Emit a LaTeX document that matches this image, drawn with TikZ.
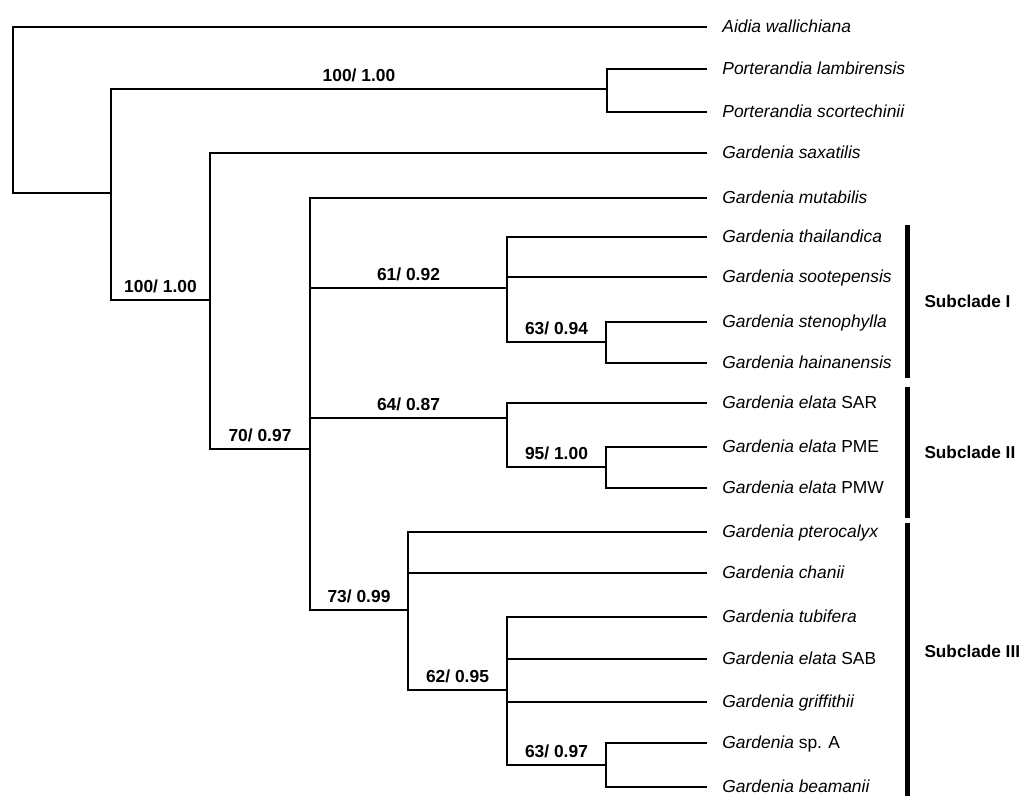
\documentclass[tikz,border=0pt]{standalone}
\usepackage{fontspec}
\setmainfont{Liberation Sans}
\usetikzlibrary{calc}

\begin{document}
\begin{tikzpicture}[x=0.5pt,y=-0.5pt,
    tree/.style={line width=0.6pt},
    taxon/.style={anchor=west,inner xsep=7.5pt,inner ysep=0pt,text height=1ex,text depth=0pt,
        font=\fontsize{8.7}{10}\selectfont\itshape},
    supp/.style={above,inner sep=3.5pt,font=\fontsize{8.7}{10}\selectfont\bfseries},
    cladebar/.style={line width=2.5pt},
    cladename/.style={anchor=west,inner sep=0pt,xshift=7.5pt,font=\fontsize{8.6}{10}\selectfont\bfseries}]
    \useasboundingbox (0,0) rectangle (1023,796);
    % taxa
    \node[taxon] (aw)  at (707,27)  {Aidia wallichiana};
    \node[taxon] (pl)  at (707,69)  {Porterandia lambirensis};
    \node[taxon] (ps)  at (707,112) {Porterandia scortechinii};
    \node[taxon] (gsa) at (707,153) {Gardenia saxatilis};
    \node[taxon] (gmu) at (707,198) {Gardenia mutabilis};
    \node[taxon] (gth) at (707,237) {Gardenia thailandica};
    \node[taxon] (gso) at (707,277) {Gardenia sootepensis};
    \node[taxon] (gst) at (707,322) {Gardenia stenophylla};
    \node[taxon] (gha) at (707,363) {Gardenia hainanensis};
    \node[taxon] (sar) at (707,403) {Gardenia elata {\upshape SAR}};
    \node[taxon] (pme) at (707,447) {Gardenia elata {\upshape PME}};
    \node[taxon] (pmw) at (707,488) {Gardenia elata {\upshape PMW}};
    \node[taxon] (gpt) at (707,532) {Gardenia pterocalyx};
    \node[taxon] (gch) at (707,573) {Gardenia chanii};
    \node[taxon] (gtu) at (707,617) {Gardenia tubifera};
    \node[taxon] (sab) at (707,659) {Gardenia elata {\upshape SAB}};
    \node[taxon] (ggr) at (707,702) {Gardenia griffithii};
    \node[taxon] (gsp) at (707,743) {Gardenia {\upshape sp. A}};
    \node[taxon] (gbe) at (707,787) {Gardenia beamanii};
    % inner nodes
    \coordinate (root) at (13,110);
    \coordinate (n1)   at (111,193);
    \coordinate (port) at (607,89);
    \coordinate (n2)   at (210,300);
    \coordinate (n3)   at (310,449);
    \coordinate (sub1) at (507,288);
    \coordinate (n4)   at (606,342);
    \coordinate (sub2) at (507,418);
    \coordinate (n5)   at (606,467);
    \coordinate (sub3) at (408,610);
    \coordinate (n6)   at (507,690);
    \coordinate (n7)   at (606,765);
    % branches
    \draw[tree] (root) |- (aw.west);
    \draw[tree] (root) |- (n1);
    \draw[tree] (n1) |- node[supp,pos=0.75] {100/ 1.00} (port);
    \draw[tree] (n1) |- node[supp,pos=0.75] {100/ 1.00} (n2);
    \draw[tree] (port) |- (pl.west);
    \draw[tree] (port) |- (ps.west);
    \draw[tree] (n2) |- (gsa.west);
    \draw[tree] (n2) |- node[supp,pos=0.75] {70/ 0.97} (n3);
    \draw[tree] (n3) |- (gmu.west);
    \draw[tree] (n3) |- node[supp,pos=0.75] {61/ 0.92} (sub1);
    \draw[tree] (n3) |- node[supp,pos=0.75] {64/ 0.87} (sub2);
    \draw[tree] (n3) |- node[supp,pos=0.75] {73/ 0.99} (sub3);
    \draw[tree] (sub1) |- (gth.west);
    \draw[tree] (sub1) |- (gso.west);
    \draw[tree] (sub1) |- node[supp,pos=0.75] {63/ 0.94} (n4);
    \draw[tree] (n4) |- (gst.west);
    \draw[tree] (n4) |- (gha.west);
    \draw[tree] (sub2) |- (sar.west);
    \draw[tree] (sub2) |- node[supp,pos=0.75] {95/ 1.00} (n5);
    \draw[tree] (n5) |- (pme.west);
    \draw[tree] (n5) |- (pmw.west);
    \draw[tree] (sub3) |- (gpt.west);
    \draw[tree] (sub3) |- (gch.west);
    \draw[tree] (sub3) |- node[supp,pos=0.75] {62/ 0.95} (n6);
    \draw[tree] (n6) |- (gtu.west);
    \draw[tree] (n6) |- (sab.west);
    \draw[tree] (n6) |- (ggr.west);
    \draw[tree] (n6) |- node[supp,pos=0.75] {63/ 0.97} (n7);
    \draw[tree] (n7) |- (gsp.west);
    \draw[tree] (n7) |- (gbe.west);
    % subclades
    \draw[cladebar] (907,225) -- node[cladename] (s1) {Subclade I} (907,378);
    \draw[cladebar] (907,387) -- node[cladename] (s2) {Subclade II} (907,518);
    \draw[cladebar] (907,523) -- node[cladename,yshift=4pt] (s3) {Subclade III} (907,796);
\end{tikzpicture}
\end{document}
